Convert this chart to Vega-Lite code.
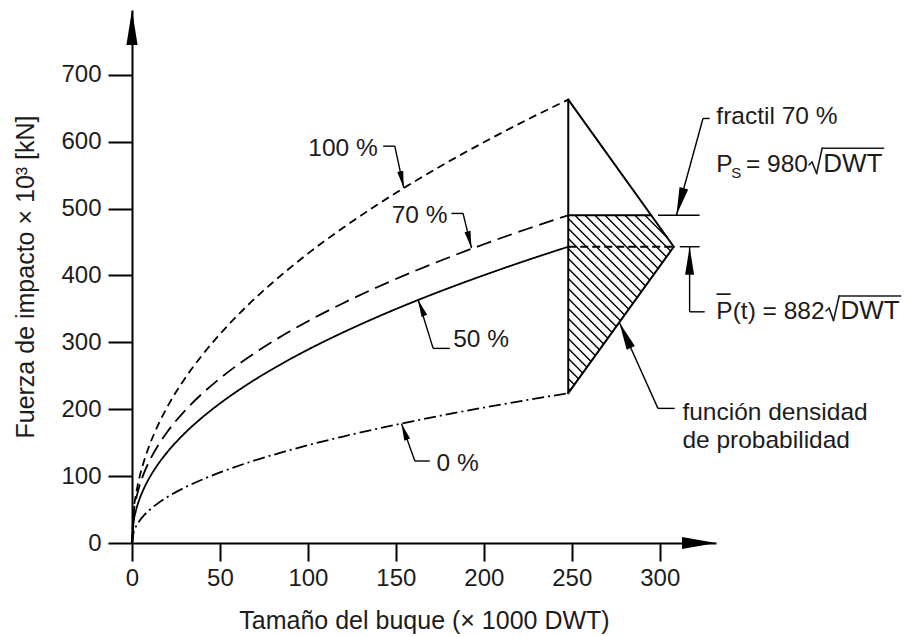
{
  "$schema": "https://vega.github.io/schema/vega-lite/v6.json",
  "width": 584,
  "height": 533,
  "autosize": "none",
  "padding": {"left": 132, "top": 10, "right": 195, "bottom": 94},
  "background": "white",
  "config": {"view": {"stroke": null}, "font": "Liberation Sans"},
  "datasets": {
    "curves": [
      {"pct": "100 %", "x": 0, "y": 0}, {"pct": "100 %", "x": 1, "y": 49.7}, {"pct": "100 %", "x": 2, "y": 68.8}, {"pct": "100 %", "x": 4, "y": 95.3}, {"pct": "100 %", "x": 7, "y": 124.0}, {"pct": "100 %", "x": 10, "y": 146.6}, {"pct": "100 %", "x": 15, "y": 177.4}, {"pct": "100 %", "x": 20, "y": 203.1}, {"pct": "100 %", "x": 30, "y": 245.7}, {"pct": "100 %", "x": 40, "y": 281.2}, {"pct": "100 %", "x": 50, "y": 312.3}, {"pct": "100 %", "x": 65, "y": 353.4}, {"pct": "100 %", "x": 80, "y": 389.6}, {"pct": "100 %", "x": 100, "y": 432.7}, {"pct": "100 %", "x": 120, "y": 471.3}, {"pct": "100 %", "x": 140, "y": 506.8}, {"pct": "100 %", "x": 160, "y": 539.6}, {"pct": "100 %", "x": 180, "y": 570.3}, {"pct": "100 %", "x": 200, "y": 599.2}, {"pct": "100 %", "x": 225, "y": 633.4}, {"pct": "100 %", "x": 248, "y": 663},
      {"pct": "70 %", "x": 0, "y": 0}, {"pct": "70 %", "x": 1, "y": 45.8}, {"pct": "70 %", "x": 2, "y": 61.7}, {"pct": "70 %", "x": 4, "y": 83.1}, {"pct": "70 %", "x": 7, "y": 105.7}, {"pct": "70 %", "x": 10, "y": 123.2}, {"pct": "70 %", "x": 15, "y": 146.7}, {"pct": "70 %", "x": 20, "y": 166.0}, {"pct": "70 %", "x": 30, "y": 197.6}, {"pct": "70 %", "x": 40, "y": 223.6}, {"pct": "70 %", "x": 50, "y": 246.1}, {"pct": "70 %", "x": 65, "y": 275.5}, {"pct": "70 %", "x": 80, "y": 301.3}, {"pct": "70 %", "x": 100, "y": 331.6}, {"pct": "70 %", "x": 120, "y": 358.6}, {"pct": "70 %", "x": 140, "y": 383.2}, {"pct": "70 %", "x": 160, "y": 405.9}, {"pct": "70 %", "x": 180, "y": 426.9}, {"pct": "70 %", "x": 200, "y": 446.7}, {"pct": "70 %", "x": 225, "y": 469.9}, {"pct": "70 %", "x": 248, "y": 490},
      {"pct": "50 %", "x": 0, "y": 0}, {"pct": "50 %", "x": 1, "y": 33.2}, {"pct": "50 %", "x": 2, "y": 46.0}, {"pct": "50 %", "x": 4, "y": 63.7}, {"pct": "50 %", "x": 7, "y": 82.8}, {"pct": "50 %", "x": 10, "y": 97.9}, {"pct": "50 %", "x": 15, "y": 118.5}, {"pct": "50 %", "x": 20, "y": 135.7}, {"pct": "50 %", "x": 30, "y": 164.2}, {"pct": "50 %", "x": 40, "y": 187.9}, {"pct": "50 %", "x": 50, "y": 208.7}, {"pct": "50 %", "x": 65, "y": 236.1}, {"pct": "50 %", "x": 80, "y": 260.3}, {"pct": "50 %", "x": 100, "y": 289.1}, {"pct": "50 %", "x": 120, "y": 314.9}, {"pct": "50 %", "x": 140, "y": 338.6}, {"pct": "50 %", "x": 160, "y": 360.6}, {"pct": "50 %", "x": 180, "y": 381.1}, {"pct": "50 %", "x": 200, "y": 400.4}, {"pct": "50 %", "x": 225, "y": 423.2}, {"pct": "50 %", "x": 248, "y": 443},
      {"pct": "0 %", "x": 0, "y": 0}, {"pct": "0 %", "x": 1, "y": 16.8}, {"pct": "0 %", "x": 2, "y": 23.3}, {"pct": "0 %", "x": 4, "y": 32.2}, {"pct": "0 %", "x": 7, "y": 41.9}, {"pct": "0 %", "x": 10, "y": 49.5}, {"pct": "0 %", "x": 15, "y": 59.9}, {"pct": "0 %", "x": 20, "y": 68.6}, {"pct": "0 %", "x": 30, "y": 83.0}, {"pct": "0 %", "x": 40, "y": 95.0}, {"pct": "0 %", "x": 50, "y": 105.5}, {"pct": "0 %", "x": 65, "y": 119.4}, {"pct": "0 %", "x": 80, "y": 131.6}, {"pct": "0 %", "x": 100, "y": 146.2}, {"pct": "0 %", "x": 120, "y": 159.2}, {"pct": "0 %", "x": 140, "y": 171.2}, {"pct": "0 %", "x": 160, "y": 182.3}, {"pct": "0 %", "x": 180, "y": 192.7}, {"pct": "0 %", "x": 200, "y": 202.5}, {"pct": "0 %", "x": 225, "y": 214.0}, {"pct": "0 %", "x": 248, "y": 224}
    ],
    "segs": [
      {"kind": "hatch", "x": 291.59, "y": 490, "x2": 304.49, "y2": 456.05},
      {"kind": "hatch", "x": 285.91, "y": 490, "x2": 306.23, "y2": 436.53},
      {"kind": "hatch", "x": 280.23, "y": 490, "x2": 303.85, "y2": 427.85},
      {"kind": "hatch", "x": 274.55, "y": 490, "x2": 301.47, "y2": 419.16},
      {"kind": "hatch", "x": 268.86, "y": 490, "x2": 299.09, "y2": 410.48},
      {"kind": "hatch", "x": 263.18, "y": 490, "x2": 296.70, "y2": 401.79},
      {"kind": "hatch", "x": 257.50, "y": 490, "x2": 294.32, "y2": 393.11},
      {"kind": "hatch", "x": 251.82, "y": 490, "x2": 291.94, "y2": 384.42},
      {"kind": "hatch", "x": 248, "y": 485.05, "x2": 289.56, "y2": 375.74},
      {"kind": "hatch", "x": 248, "y": 470.10, "x2": 287.18, "y2": 367.05},
      {"kind": "hatch", "x": 248, "y": 455.16, "x2": 284.80, "y2": 358.37},
      {"kind": "hatch", "x": 248, "y": 440.21, "x2": 282.42, "y2": 349.68},
      {"kind": "hatch", "x": 248, "y": 425.26, "x2": 280.04, "y2": 341.00},
      {"kind": "hatch", "x": 248, "y": 410.31, "x2": 277.66, "y2": 332.31},
      {"kind": "hatch", "x": 248, "y": 395.37, "x2": 275.28, "y2": 323.63},
      {"kind": "hatch", "x": 248, "y": 380.42, "x2": 272.90, "y2": 314.94},
      {"kind": "hatch", "x": 248, "y": 365.47, "x2": 270.52, "y2": 306.26},
      {"kind": "hatch", "x": 248, "y": 350.52, "x2": 268.14, "y2": 297.57},
      {"kind": "hatch", "x": 248, "y": 335.58, "x2": 265.76, "y2": 288.89},
      {"kind": "hatch", "x": 248, "y": 320.63, "x2": 263.38, "y2": 280.20},
      {"kind": "hatch", "x": 248, "y": 305.68, "x2": 261.00, "y2": 271.52},
      {"kind": "hatch", "x": 248, "y": 290.73, "x2": 258.62, "y2": 262.83},
      {"kind": "hatch", "x": 248, "y": 275.78, "x2": 256.24, "y2": 254.15},
      {"kind": "hatch", "x": 248, "y": 260.84, "x2": 253.86, "y2": 245.46},
      {"kind": "hatch", "x": 248, "y": 245.89, "x2": 251.48, "y2": 236.78},
      {"kind": "hatch", "x": 248, "y": 230.94, "x2": 249.10, "y2": 228.09},
      {"kind": "tri", "x": 248, "y": 224, "x2": 248, "y2": 663},
      {"kind": "tri", "x": 248, "y": 663, "x2": 308, "y2": 443},
      {"kind": "tri", "x": 308, "y": 443, "x2": 248, "y2": 224},
      {"kind": "tri", "x": 248, "y": 490, "x2": 295.2, "y2": 490},
      {"kind": "dash", "x": 248, "y": 443, "x2": 308, "y2": 443},
      {"kind": "lead", "x": 299, "y": 490, "x2": 322.7, "y2": 490},
      {"kind": "lead", "x": 311.4, "y": 443, "x2": 322.7, "y2": 443},
      {"kind": "lead", "x": 142.8, "y": 593.4, "x2": 149.4, "y2": 593.4},
      {"kind": "lead", "x": 149.4, "y": 593.4, "x2": 154.5, "y2": 531},
      {"kind": "lead", "x": 181.6, "y": 492.8, "x2": 188.2, "y2": 492.8},
      {"kind": "lead", "x": 188.2, "y": 492.8, "x2": 193, "y2": 441},
      {"kind": "lead", "x": 180.7, "y": 291.0, "x2": 171.2, "y2": 291.0},
      {"kind": "lead", "x": 171.2, "y": 291.0, "x2": 162.7, "y2": 363.4},
      {"kind": "lead", "x": 169.3, "y": 122.6, "x2": 160.8, "y2": 122.6},
      {"kind": "lead", "x": 160.8, "y": 122.6, "x2": 153.2, "y2": 178.5},
      {"kind": "lead", "x": 328.4, "y": 634.8, "x2": 324.6, "y2": 634.8},
      {"kind": "lead", "x": 324.6, "y": 634.8, "x2": 309.5, "y2": 490},
      {"kind": "lead", "x": 325.6, "y": 345.7, "x2": 317, "y2": 345.7},
      {"kind": "lead", "x": 317, "y": 345.7, "x2": 317, "y2": 443},
      {"kind": "lead", "x": 308.5, "y": 201.3, "x2": 299, "y2": 201.3},
      {"kind": "lead", "x": 299, "y": 201.3, "x2": 277, "y2": 330},
      {"kind": "rad", "x": 332.6, "y": 372.2, "x2": 340.0, "y2": 372.2},
      {"kind": "rad", "x": 384.9, "y": 565.2, "x2": 386.6, "y2": 569.7},
      {"kind": "rad", "x": 386.6, "y": 569.7, "x2": 389.2, "y2": 552.5},
      {"kind": "rad", "x": 389.2, "y": 552.5, "x2": 392.3, "y2": 590.2},
      {"kind": "rad", "x": 392.3, "y": 590.2, "x2": 427.3, "y2": 590.2},
      {"kind": "rad", "x": 394.5, "y": 346.9, "x2": 396.3, "y2": 351.4},
      {"kind": "rad", "x": 396.3, "y": 351.4, "x2": 398.8, "y2": 332.7},
      {"kind": "rad", "x": 398.8, "y": 332.7, "x2": 402.0, "y2": 369.3},
      {"kind": "rad", "x": 402.0, "y": 369.3, "x2": 437.0, "y2": 369.3}
    ],
    "texts": [
      {"t": "100 %", "x": 100.2, "y": 578.5},
      {"t": "70 %", "x": 147.6, "y": 478.8},
      {"t": "50 %", "x": 182.6, "y": 293.4},
      {"t": "0 %", "x": 173.1, "y": 108.1},
      {"t": "fractil 70 %", "x": 332.2, "y": 625.9},
      {"t": "P", "x": 332.2, "y": 555.0},
      {"t": "= 980", "x": 349.0, "y": 555.0},
      {"t": "P(t) = 882", "x": 332.2, "y": 334.4},
      {"t": "función densidad", "x": 312.9, "y": 183.9},
      {"t": "de probabilidad", "x": 312.9, "y": 142.5}
    ],
    "roots": [
      {"t": "DWT", "x": 393.0, "y": 555.0},
      {"t": "DWT", "x": 402.8, "y": 334.4}
    ],
    "subs": [
      {"t": "S", "x": 340.6, "y": 545.6}
    ],
    "tips": [
      {"n": "a", "x": 154.5, "y": 531},
      {"n": "b", "x": 193, "y": 441},
      {"n": "c", "x": 162.7, "y": 363.4},
      {"n": "d", "x": 153.2, "y": 178.5},
      {"n": "e", "x": 309.5, "y": 490},
      {"n": "f", "x": 317, "y": 443},
      {"n": "g", "x": 277, "y": 330},
      {"n": "xa", "x": 332, "y": 0},
      {"n": "ya", "x": 0, "y": 797}
    ]
  },
  "encoding": {
    "x": {
      "field": "x", "type": "quantitative",
      "scale": {"domain": [0, 332], "nice": false, "zero": false},
      "axis": {
        "title": "Tamaño del buque (× 1000 DWT)",
        "values": [0, 50, 100, 150, 200, 250, 300],
        "grid": false,
        "domainColor": "#000", "domainWidth": 2,
        "tickColor": "#000", "tickWidth": 2, "tickSize": 18,
        "labelFontSize": 24, "labelPadding": 5, "labelColor": "#1c1c1c", "labelFlush": false, "labelFont": "Liberation Sans",
        "titleFont": "Liberation Sans", "titleFontSize": 25, "titleFontWeight": "normal", "titleColor": "#1c1c1c",
        "titleBaseline": "alphabetic", "titleY": 85
      }
    },
    "y": {
      "field": "y", "type": "quantitative",
      "scale": {"domain": [0, 797], "nice": false},
      "axis": {
        "title": "Fuerza de impacto × 10³ [kN]",
        "values": [0, 100, 200, 300, 400, 500, 600, 700],
        "grid": false,
        "domainColor": "#000", "domainWidth": 2,
        "tickColor": "#000", "tickWidth": 2, "tickSize": 24,
        "labelFontSize": 24, "labelPadding": 7, "labelColor": "#1c1c1c", "labelFlush": false, "labelFont": "Liberation Sans",
        "titleFont": "Liberation Sans", "titleFontSize": 25, "titleFontWeight": "normal", "titleColor": "#1c1c1c",
        "titleAngle": -90, "titleBaseline": "alphabetic", "titleAlign": "center", "titleX": -99, "titleY": 266.5
      }
    }
  },
  "layer": [
    {
      "data": {"name": "curves"},
      "mark": {"type": "line", "color": "black", "strokeWidth": 1.8, "interpolate": "monotone"},
      "encoding": {
        "detail": {"field": "pct"},
        "strokeDash": {"field": "pct", "type": "nominal", "scale": {"domain": ["100 %", "70 %", "50 %", "0 %"], "range": [[8, 5], [15, 7], [1, 0], [12, 4, 2, 4]]}, "legend": null}
      }
    },
    {
      "data": {"name": "segs"},
      "transform": [{"filter": "datum.kind == 'hatch'"}],
      "mark": {"type": "rule", "color": "black", "strokeWidth": 1.4},
      "encoding": {"x2": {"field": "x2"}, "y2": {"field": "y2"}}
    },
    {
      "data": {"name": "segs"},
      "transform": [{"filter": "datum.kind == 'tri'"}],
      "mark": {"type": "rule", "color": "black", "strokeWidth": 2, "strokeCap": "round"},
      "encoding": {"x2": {"field": "x2"}, "y2": {"field": "y2"}}
    },
    {
      "data": {"name": "segs"},
      "transform": [{"filter": "datum.kind == 'dash'"}],
      "mark": {"type": "rule", "color": "black", "strokeWidth": 1.8, "strokeDash": [8, 4]},
      "encoding": {"x2": {"field": "x2"}, "y2": {"field": "y2"}}
    },
    {
      "data": {"name": "segs"},
      "transform": [{"filter": "datum.kind == 'lead'"}],
      "mark": {"type": "rule", "color": "black", "strokeWidth": 1.4},
      "encoding": {"x2": {"field": "x2"}, "y2": {"field": "y2"}}
    },
    {
      "data": {"name": "segs"},
      "transform": [{"filter": "datum.kind == 'rad'"}],
      "mark": {"type": "rule", "color": "#1c1c1c", "strokeWidth": 1.6, "strokeCap": "round"},
      "encoding": {"x2": {"field": "x2"}, "y2": {"field": "y2"}}
    },
    {
      "data": {"name": "texts"},
      "mark": {"type": "text", "align": "left", "baseline": "alphabetic", "fontSize": 24.5, "font": "Liberation Sans", "color": "#1c1c1c"},
      "encoding": {"text": {"field": "t"}}
    },
    {
      "data": {"name": "roots"},
      "mark": {"type": "text", "align": "left", "baseline": "alphabetic", "fontSize": 26, "font": "Liberation Sans", "color": "#1c1c1c"},
      "encoding": {"text": {"field": "t"}}
    },
    {
      "data": {"name": "subs"},
      "mark": {"type": "text", "align": "left", "baseline": "alphabetic", "fontSize": 15, "font": "Liberation Sans", "color": "#1c1c1c"},
      "encoding": {"text": {"field": "t"}}
    },
    {
      "data": {"name": "tips"},
      "transform": [{"filter": "datum.n == 'a'"}],
      "mark": {"type": "point", "shape": "M0,0L0.18,1L-0.18,1Z", "size": 1156, "angle": 167.9, "filled": true, "color": "black", "opacity": 1, "strokeWidth": 0}
    },
    {
      "data": {"name": "tips"},
      "transform": [{"filter": "datum.n == 'b'"}],
      "mark": {"type": "point", "shape": "M0,0L0.18,1L-0.18,1Z", "size": 1156, "angle": 166.4, "filled": true, "color": "black", "opacity": 1, "strokeWidth": 0}
    },
    {
      "data": {"name": "tips"},
      "transform": [{"filter": "datum.n == 'c'"}],
      "mark": {"type": "point", "shape": "M0,0L0.18,1L-0.18,1Z", "size": 1156, "angle": -21.2, "filled": true, "color": "black", "opacity": 1, "strokeWidth": 0}
    },
    {
      "data": {"name": "tips"},
      "transform": [{"filter": "datum.n == 'd'"}],
      "mark": {"type": "point", "shape": "M0,0L0.18,1L-0.18,1Z", "size": 1156, "angle": -19.7, "filled": true, "color": "black", "opacity": 1, "strokeWidth": 0}
    },
    {
      "data": {"name": "tips"},
      "transform": [{"filter": "datum.n == 'e'"}],
      "mark": {"type": "point", "shape": "M0,0L0.16,1L-0.16,1Z", "size": 3136, "angle": 195.4, "filled": true, "color": "black", "opacity": 1, "strokeWidth": 0}
    },
    {
      "data": {"name": "tips"},
      "transform": [{"filter": "datum.n == 'f'"}],
      "mark": {"type": "point", "shape": "M0,0L0.16,1L-0.16,1Z", "size": 3136, "angle": 0, "filled": true, "color": "black", "opacity": 1, "strokeWidth": 0}
    },
    {
      "data": {"name": "tips"},
      "transform": [{"filter": "datum.n == 'g'"}],
      "mark": {"type": "point", "shape": "M0,0L0.16,1L-0.16,1Z", "size": 3136, "angle": -24.3, "filled": true, "color": "black", "opacity": 1, "strokeWidth": 0}
    },
    {
      "data": {"name": "tips"},
      "transform": [{"filter": "datum.n == 'xa'"}],
      "mark": {"type": "point", "shape": "M0,0L0.176,1L-0.176,1Z", "size": 4624, "angle": 90, "filled": true, "color": "black", "opacity": 1, "strokeWidth": 0, "clip": false}
    },
    {
      "data": {"name": "tips"},
      "transform": [{"filter": "datum.n == 'ya'"}],
      "mark": {"type": "point", "shape": "M0,0L0.16,1L-0.16,1Z", "size": 4900, "angle": 0, "filled": true, "color": "black", "opacity": 1, "strokeWidth": 0, "clip": false}
    }
  ]
}
